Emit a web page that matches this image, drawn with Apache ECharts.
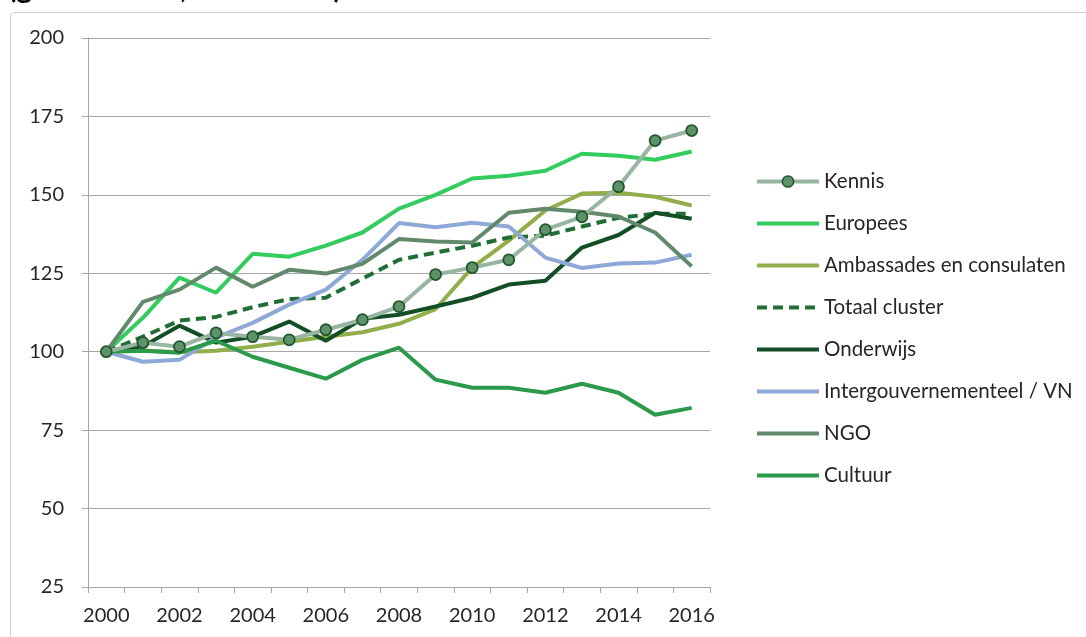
<!DOCTYPE html>
<html>
<head>
<meta charset="utf-8">
<script src="https://cdn.jsdelivr.net/npm/echarts@6/dist/echarts.min.js"></script>
<style>html,body{margin:0;padding:0;background:#fff}#c{width:1086px;height:637px}</style>
</head>
<body>
<div id="c"></div>
<script>
const years = ['2000','2001','2002','2003','2004','2005','2006','2007','2008','2009','2010','2011','2012','2013','2014','2015','2016'];
const yTicks = {min: 25, max: 200, interval: 25};

const kennis = [100, 102.9, 101.6, 106, 104.8, 103.8, 107, 110.2, 114.4, 124.6, 126.8, 129.3, 138.9, 143, 152.6, 167.3, 170.5];
const europees = [100, 110.8, 123.6, 118.8, 131.2, 130.3, 133.8, 138, 145.6, 150, 155.2, 156.1, 157.7, 163.1, 162.5, 161.2, 163.8];
const ambassades = [100, 100.4, 99.8, 100.3, 101.6, 103.2, 104.8, 106.2, 108.9, 113.6, 126.8, 135.4, 145, 150.4, 150.7, 149.4, 146.6];
const totaal = [100, 104.8, 109.9, 111.1, 114.2, 116.8, 117.2, 123.3, 129.3, 131.6, 133.8, 136.4, 137, 139.9, 142.7, 144, 144];
const onderwijs = [100, 101.7, 108.3, 102.9, 104.8, 109.6, 103.5, 110.5, 111.8, 114.4, 117.2, 121.4, 122.6, 133.2, 137.2, 144.3, 142.4];
const intergouv = [100, 96.8, 97.4, 104.5, 109.2, 115, 119.8, 129.3, 141, 139.7, 141.1, 139.9, 130, 126.7, 128.1, 128.4, 130.9];
const ngo = [100, 115.9, 119.8, 126.8, 120.7, 126.1, 124.9, 128, 135.9, 135.1, 134.8, 144.3, 145.6, 144.6, 143.1, 138, 127.2];
const cultuur = [100, 100.3, 99.7, 103.5, 98.4, 94.9, 91.4, 97.4, 101.3, 91.1, 88.5, 88.5, 86.9, 89.8, 86.9, 79.9, 82.1];

const names = ['Kennis','Europees','Ambassades en consulaten','Totaal cluster','Onderwijs','Intergouvernementeel / VN','NGO','Cultuur'];
const FONT = 'Lato';

function line(name, data, color, extra) {
  return Object.assign({
    name: name, type: 'line', data: data, symbol: 'none',
    lineStyle: {color: color, width: 4},
    itemStyle: {color: color},
    emphasis: {disabled: true}, animation: false
  }, extra || {});
}

const chart = echarts.init(document.getElementById('c'), null, {renderer: 'canvas'});
chart.setOption({
  backgroundColor: '#fff',
  animation: false,
  graphic: [
    {type: 'rect', shape: {x: 10.5, y: 12.5, width: 1200, height: 800, r: 4}, style: {fill: 'none', stroke: '#D0D0D0', lineWidth: 1}, z: -10},
    {type: 'text', left: 8, top: -27, style: {text: '(geïndexeerd, 2000=100)', font: 'bold 30px ' + FONT, fill: '#000'}}
  ],
  grid: {left: 88, right: 376, top: 38, bottom: 50, containLabel: false},
  xAxis: {
    type: 'category', data: years, boundaryGap: true,
    axisLine: {show: true, lineStyle: {color: '#A6A6A6', width: 1}},
    axisTick: {show: true, interval: 0, length: 6, alignWithLabel: false, lineStyle: {color: '#A6A6A6'}},
    axisLabel: {interval: 1, color: '#262626', fontFamily: FONT, fontSize: 20, margin: 19},
    splitLine: {show: false}
  },
  yAxis: {
    type: 'value', min: yTicks.min, max: yTicks.max, interval: yTicks.interval,
    axisLine: {show: true, lineStyle: {color: '#A6A6A6', width: 1}},
    axisTick: {show: true, length: 6, lineStyle: {color: '#A6A6A6'}},
    axisLabel: {color: '#262626', fontFamily: FONT, fontSize: 20, margin: 24},
    splitLine: {show: true, lineStyle: {color: '#A6A6A6', width: 1}}
  },
  legend: {
    orient: 'vertical', left: 750, top: 166,
    itemWidth: 62, itemHeight: 14, itemGap: 21,
    lineStyle: {width: 4},
    textStyle: {fontFamily: FONT, fontSize: 20.5, color: '#262626', padding: [0, 0, 0, 0]},
    data: names.map(function (n, i) {
      return i === 0 ? {name: n, itemStyle: {borderWidth: 1.5}} : {name: n, itemStyle: {opacity: 0}};
    })
  },
  series: [
    line(names[0], kennis, '#97B5A0', {
      symbol: 'circle', symbolSize: 11, showSymbol: true, z: 5,
      itemStyle: {color: '#5E9369', borderColor: '#22572E', borderWidth: 1.8}
    }),
    line(names[1], europees, '#33CC5E'),
    line(names[2], ambassades, '#92AE4A'),
    line(names[3], totaal, '#1F6E35', {lineStyle: {color: '#1F6E35', width: 4, type: [10, 6]}}),
    line(names[4], onderwijs, '#124F25'),
    line(names[5], intergouv, '#8EA9D8'),
    line(names[6], ngo, '#62896C'),
    line(names[7], cultuur, '#2B9A4A')
  ]
});
</script>
</body>
</html>
